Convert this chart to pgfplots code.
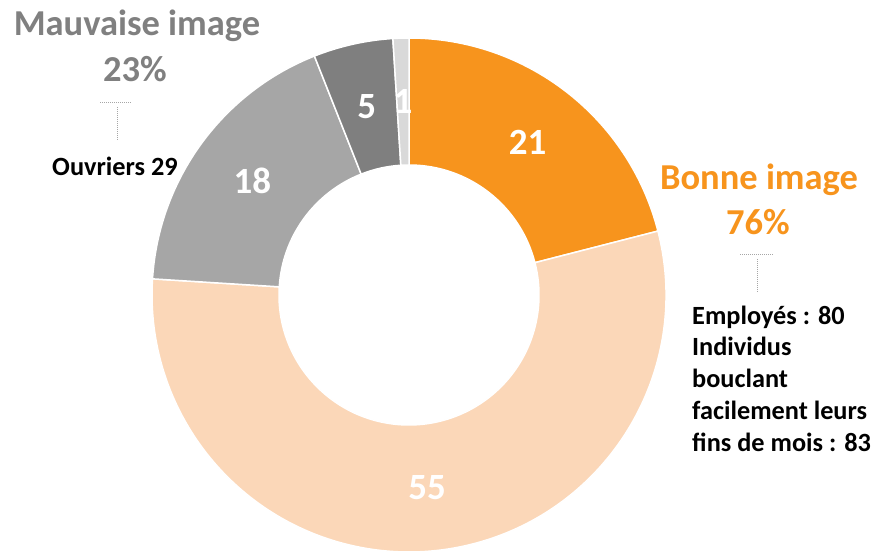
\documentclass[border=0pt]{standalone}
\usepackage{pgfplots}
\pgfplotsset{compat=1.18}
\usepackage{fontspec}
\setmainfont{Carlito}

\definecolor{sliceA}{HTML}{F7941D}
\definecolor{sliceB}{HTML}{FBD7B8}
\definecolor{sliceC}{HTML}{A6A6A6}
\definecolor{sliceD}{HTML}{7F7F7F}
\definecolor{sliceE}{HTML}{D9D9D9}
\definecolor{grayTxt}{HTML}{808080}
\definecolor{leader}{HTML}{A6A6A6}

\tikzset{
  numlbl/.style={white,inner sep=0pt,font=\bfseries\fontsize{37}{40}\selectfont},
  bigttl/.style={inner sep=0pt,anchor=base,font=\bfseries\fontsize{36.5}{40}\selectfont},
  smalltxt/.style={inner sep=0pt,font=\bfseries\fontsize{26.3}{30}\selectfont},
}

\begin{document}
\begin{tikzpicture}
\begin{axis}[
  hide axis,
  scale only axis,
  width=874pt, height=553pt,
  xmin=0, xmax=874, ymin=0, ymax=553,
  clip=false,
]
\addplot[draw=none, forget plot] coordinates {(0,0) (874,553)};

% donut: values in percent, clockwise from 12 o'clock
\def\cx{409}\def\cy{258}\def\ro{257}\def\ri{130}
\def\a{90}
\pgfplotsforeachungrouped \v/\c in {21/sliceA,55/sliceB,18/sliceC,5/sliceD,1/sliceE}{%
  \pgfmathsetmacro\b{\a-3.6*\v}%
  \pgfmathsetmacro\m{(\a+\b)/2}%
  \pgfmathsetmacro\xo{\cx+\ro*cos(\a)}%
  \pgfmathsetmacro\yo{\cy+\ro*sin(\a)}%
  \pgfmathsetmacro\xi{\cx+\ri*cos(\b)}%
  \pgfmathsetmacro\yi{\cy+\ri*sin(\b)}%
  \pgfmathsetmacro\xm{\cx+193.5*cos(\m)}%
  \pgfmathsetmacro\ym{\cy+193.5*sin(\m)}%
  \edef\cmd{%
    \noexpand\fill[\c,draw=white,line width=1.5pt]
      (axis cs:\xo,\yo) arc[start angle=\a,end angle=\b,radius=\ro]
      -- (axis cs:\xi,\yi) arc[start angle=\b,end angle=\a,radius=\ri] -- cycle;
    \noexpand\node[numlbl] at (axis cs:\xm,\ym) {\v};
  }%
  \cmd
  \let\a\b
}

% left group
\node[bigttl,grayTxt] at (axis cs:137,517) {Mauvaise image};
\node[bigttl,grayTxt] at (axis cs:135,471) {23\%};
\draw[leader,densely dotted,line width=1pt] (axis cs:100,450) -- (axis cs:132,450);
\draw[leader,densely dotted,line width=1pt] (axis cs:117,446) -- (axis cs:117,413);
\node[smalltxt,anchor=base] at (axis cs:115,377) {Ouvriers 29};

% right group
\node[bigttl,sliceA] at (axis cs:759,363) {Bonne image};
\node[bigttl,sliceA] at (axis cs:758,318) {76\%};
\draw[leader,densely dotted,line width=1pt] (axis cs:740,298) -- (axis cs:773,298);
\draw[leader,densely dotted,line width=1pt] (axis cs:757,294) -- (axis cs:757,261);
\node[smalltxt,anchor=base west] at (axis cs:692,228) {Employés : 80};
\node[smalltxt,anchor=base west] at (axis cs:692,197) {Individus};
\node[smalltxt,anchor=base west] at (axis cs:692,165) {bouclant};
\node[smalltxt,anchor=base west] at (axis cs:692,133) {facilement leurs};
\node[smalltxt,anchor=base west] at (axis cs:692,101) {fins de mois : 83};
\end{axis}
\pgfresetboundingbox
\path[use as bounding box] (current axis.south west) rectangle (current axis.north east);
\end{tikzpicture}
\end{document}
